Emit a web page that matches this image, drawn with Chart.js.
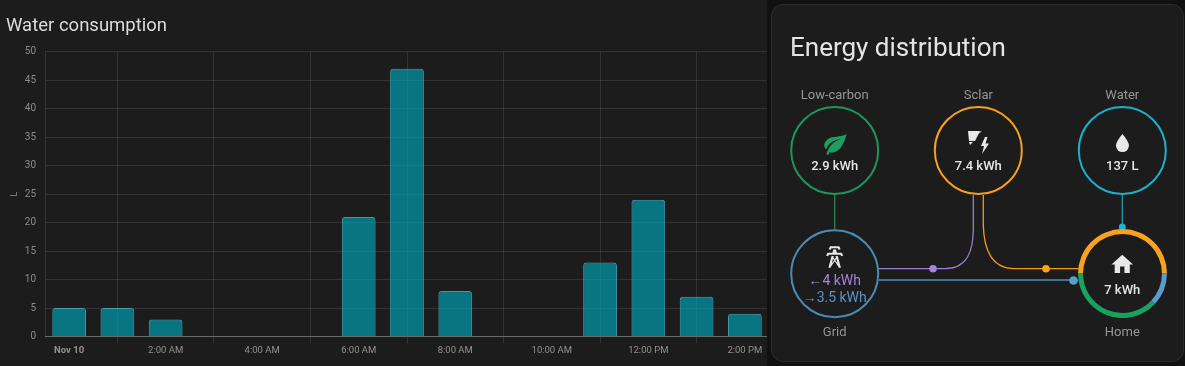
<!DOCTYPE html>
<html><head><meta charset="utf-8">
<script src="https://cdn.jsdelivr.net/npm/chart.js@4"></script>
<style>
html,body{margin:0;padding:0;background:#111;width:1185px;height:366px;overflow:hidden;font-family:Roboto,sans-serif}
#left{position:absolute;left:0;top:0;width:767px;height:366px;background:#1c1c1c;overflow:hidden}
#card{position:absolute;left:771px;top:4px;width:411px;height:356px;background:#1c1c1c;border:1px solid #2c2c2c;border-radius:12px}
#diagram{position:absolute;left:0;top:0;width:1185px;height:366px}
#ringBox{position:absolute;left:1078px;top:229px;width:89px;height:89px}
</style></head><body>
<div id="left"><canvas id="water" width="775" height="366"></canvas></div>
<div id="card"></div>
<svg id="diagram" viewBox="0 0 1185 366" font-family="Roboto,sans-serif" text-anchor="middle">
  <text x="790" y="56" font-size="26" fill="#e4e4e4" text-anchor="start">Energy distribution</text>
  <g font-size="13" fill="#969696">
    <text x="834.7" y="99">Low-carbon</text>
    <text x="978.3" y="99">Sclar</text>
    <text x="1122.3" y="99">Water</text>
    <text x="834.7" y="336">Grid</text>
    <text x="1122.3" y="336">Home</text>
  </g>
  <g fill="none" stroke-width="1.3">
    <path d="M834.7 195V229.5" stroke="#2f8058"/>
    <path d="M1122.3 195V226" stroke="#1f97ab"/>
    <path d="M879 268.7H945C965 268.7 973 255 973.3 230V195" stroke="#9a7fd0"/>
    <path d="M983.3 195V225C984 255 995 268.7 1015 268.7H1079" stroke="#f09a20"/>
    <path d="M879 280H1073" stroke="#4f8fb8" stroke-width="1.6"/>
  </g>
  <circle cx="933" cy="268.7" r="3.8" fill="#a583e0"/>
  <circle cx="1046" cy="268.7" r="3.8" fill="#ff9f1a"/>
  <circle cx="1073.5" cy="280.5" r="4.3" fill="#5a9fcb"/>
  <circle cx="1122.3" cy="227" r="3.5" fill="#1fb3c9"/>
  <g fill="none" stroke-width="2">
    <circle cx="834.7" cy="150.5" r="43.5" stroke="#1f9460"/>
    <circle cx="978.3" cy="150.5" r="43.5" stroke="#f5a020"/>
    <circle cx="1122.3" cy="150.5" r="43.5" stroke="#1fb0c8"/>
    <circle cx="834.7" cy="273.8" r="43.5" stroke="#4a8ab4"/>
  </g>
  <g font-size="13" font-weight="500" fill="#e6e6e6">
    <text x="834.7" y="170">2.9 kWh</text>
    <text x="978.3" y="170">7.4 kWh</text>
    <text x="1122.3" y="170">137 L</text>
    <text x="1122.3" y="294">7 kWh</text>
  </g>
  <text x="834.7" y="285" font-size="14" fill="#a583e0">←4 kWh</text>
  <text x="834.7" y="301.5" font-size="14" fill="#5a94c4">→3.5 kWh</text>
  <path transform="translate(822,130.3) scale(1.12)" fill="#1f9d61" d="M17,8C8,10 5.9,16.17 3.82,21.34L5.71,22L6.66,19.7C7.14,19.87 7.64,20 8,20C19,20 22,3 22,3C21,5 14,5.25 9,6.25C4,7.25 2,11.5 2,13.5C2,15.5 3.75,17.25 3.75,17.25C7,8 17,8 17,8Z"/>
  <g fill="#e8e8e8">
    <path d="M968 131H980L975 141H969Z"/>
    <path d="M980 131.5L982 131L976 136Z"/>
    <path d="M969 142L973 142L970 145Z"/>
    <path d="M985 137L981 146H984L982 154L989 143.5H985.5L987.5 137Z"/>
  </g>
  <path transform="translate(1109.5,130.5) scale(1.08)" fill="#e8e8e8" d="M12,20A6,6 0 0,1 6,14C6,10 12,3.25 12,3.25C12,3.25 18,10 18,14A6,6 0 0,1 12,20Z"/>
  <path transform="translate(821.7,244) scale(1.08)" fill="#e8e8e8" d="M8.28,5.45L6.5,4.55L7.76,2H16.23L17.5,4.55L15.72,5.44L15,4H9L8.28,5.45M18.62,8H14.09L13.3,5H10.7L9.91,8H5.38L4.1,10.55L5.89,11.44L6.62,10H17.38L18.1,11.44L19.89,10.55L18.62,8M17.77,22H15.7L15.46,21.1L12,15.9L8.53,21.1L8.3,22H6.23L9.12,11H11.19L10.83,12.37L12,14.1L13.16,12.37L12.81,11H14.88L17.77,22M11.4,15L10.5,13.65L9.32,18.13L11.4,15M14.68,18.13L13.5,13.65L12.6,15L14.68,18.13Z"/>
  <path transform="translate(1109.3,251.5) scale(1.08)" fill="#e8e8e8" d="M10,20V14H14V20H19V12H22L12,3L2,12H5V20H10Z"/>
</svg>
<div id="ringBox"><canvas id="ring" width="89" height="89"></canvas></div>
<script>
const hours = ['Nov 10','1:00 AM','2:00 AM','3:00 AM','4:00 AM','5:00 AM','6:00 AM','7:00 AM','8:00 AM','9:00 AM','10:00 AM','11:00 AM','12:00 PM','1:00 PM','2:00 PM'];
const litres = [5,5,3,0,0,0,21,47,8,0,0,13,24,7,4];
const homeLabels = ['Solar','Grid','Low-carbon'];
const homeShares = [50,12,38];
const homeColors = ['#f8a21e','#5a9ccb','#19a25f'];

Chart.defaults.font.family = 'Roboto, sans-serif';
const gridLine = 'rgba(255,255,255,0.10)';
new Chart(document.getElementById('water'), {
  type: 'bar',
  data: { labels: hours, datasets: [{ label: 'Water', data: litres,
    backgroundColor: 'rgba(0,172,193,0.62)', borderColor: 'rgba(80,205,220,0.7)',
    borderWidth: 1, borderRadius: 3, barPercentage: 0.7, categoryPercentage: 1 }] },
  options: {
    responsive: false, animation: false,
    layout: { padding: { left: 6, right: 6, top: 0, bottom: 0 } },
    plugins: { legend: { display: false }, tooltip: { enabled: false },
      title: { display: true, text: 'Water consumption', align: 'start', color: '#dcdcdc',
        font: { size: 18.5, weight: 'normal' }, padding: { top: 15, bottom: 14.5 } } },
    scales: {
      x: { offset: true,
        grid: { offset: false, tickLength: 7, color: c => c.index % 2 ? gridLine : 'rgba(0,0,0,0)' },
        border: { display: true, color: 'rgba(255,255,255,0.28)' },
        afterFit: s => { s.height = 29.5; },
        ticks: { autoSkip: false, maxRotation: 0, padding: 1, color: '#929292',
          font: c => c.index === 0 ? { size: 9.5, weight: 'bold' } : { size: 9.5 },
          callback: function (v, i) { return i % 2 ? '' : this.getLabelForValue(v); } } },
      y: { min: 0, max: 50,
        title: { display: true, text: 'L', color: '#929292', font: { size: 9 }, padding: { top: 3, bottom: 0 } },
        grid: { color: gridLine, drawTicks: false },
        border: { display: true, color: gridLine },
        afterFit: s => { s.width = 39; },
        ticks: { stepSize: 5, padding: 9, color: '#8c8c8c', font: { size: 10 } } }
    }
  }
});
new Chart(document.getElementById('ring'), {
  type: 'doughnut',
  data: { labels: homeLabels, datasets: [{ data: homeShares, backgroundColor: homeColors, borderWidth: 0 }] },
  options: { responsive: false, animation: false, rotation: -90, cutout: 39.5,
    layout: { padding: 0 },
    plugins: { legend: { display: false }, tooltip: { enabled: false } } }
});
</script>
</body></html>
